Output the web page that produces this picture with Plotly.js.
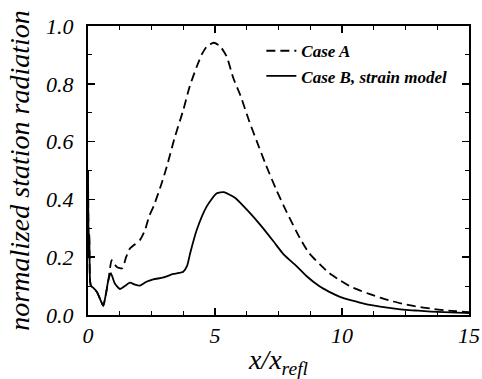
<!DOCTYPE html>
<html>
<head>
<meta charset="utf-8">
<script src="https://cdn.plot.ly/plotly-3.0.1.min.js"></script>
<style>html,body{margin:0;padding:0;background:#fff;}</style>
</head>
<body>
<div id="chart" style="width:482px;height:379px;"></div>
<script>
// Case A (dashed)
const caseA_x = [0, 0.03, 0.05, 0.08, 0.12, 0.2, 0.35, 0.5, 0.6, 0.7, 0.8, 0.85, 0.93, 1.05, 1.15, 1.35, 1.5, 1.65, 1.85, 2.05, 2.25, 2.4, 2.6, 2.9, 3.1, 3.4, 3.75, 4.0, 4.28, 4.5, 4.67, 4.95, 5.2, 5.46, 5.72, 6.0, 6.35, 6.65, 7.0, 7.43, 7.8, 8.35, 8.7, 9.13, 9.5, 9.92, 10.3, 10.7, 11.1, 11.5, 12.0, 12.5, 12.9, 13.5, 14.1, 14.5, 15];
const caseA_y = [0.50, 0.20, 0.28, 0.12, 0.10, 0.095, 0.08, 0.05, 0.032, 0.07, 0.12, 0.15, 0.19, 0.175, 0.165, 0.162, 0.20, 0.23, 0.245, 0.26, 0.295, 0.34, 0.38, 0.456, 0.513, 0.61, 0.709, 0.79, 0.859, 0.905, 0.928, 0.942, 0.93, 0.894, 0.82, 0.76, 0.67, 0.60, 0.52, 0.43, 0.36, 0.265, 0.215, 0.175, 0.145, 0.12, 0.10, 0.085, 0.072, 0.06, 0.047, 0.037, 0.03, 0.022, 0.016, 0.013, 0.01];
// Case B, strain model (solid)
const caseB_x = [0, 0.03, 0.05, 0.08, 0.12, 0.2, 0.35, 0.5, 0.6, 0.7, 0.8, 0.9, 1.05, 1.26, 1.45, 1.65, 1.85, 2.05, 2.3, 2.57, 2.97, 3.36, 3.75, 3.9, 4.02, 4.28, 4.67, 5.07, 5.35, 5.6, 5.8, 6.3, 6.8, 7.3, 7.7, 8.2, 8.6, 9.1, 9.5, 9.92, 10.3, 10.7, 11.1, 11.5, 12.0, 12.5, 13.0, 13.5, 14.0, 14.5, 15];
const caseB_y = [0.50, 0.20, 0.28, 0.12, 0.10, 0.095, 0.08, 0.05, 0.032, 0.07, 0.12, 0.145, 0.11, 0.09, 0.10, 0.112, 0.105, 0.102, 0.115, 0.123, 0.13, 0.142, 0.15, 0.17, 0.213, 0.294, 0.375, 0.421, 0.425, 0.415, 0.405, 0.36, 0.31, 0.255, 0.21, 0.17, 0.135, 0.10, 0.08, 0.063, 0.052, 0.043, 0.035, 0.029, 0.023, 0.018, 0.015, 0.012, 0.01, 0.008, 0.007];
const seriesNames = ['Case A', 'Case B, strain model'];
const yTickVals = [0, 0.2, 0.4, 0.6, 0.8, 1.0];
const xTickVals = [0, 5, 10, 15];

const serif = 'Liberation Serif';
const traces = [
  {x: caseA_x, y: caseA_y, name: seriesNames[0], mode: 'lines',
   line: {color: '#000', width: 1.8, dash: '9px,5px', shape: 'spline', smoothing: 0.6}},
  {x: caseB_x, y: caseB_y, name: seriesNames[1], mode: 'lines',
   line: {color: '#000', width: 1.8, shape: 'spline', smoothing: 0.6}}
];
const axisCommon = {
  showgrid: false, zeroline: false, showline: true, linecolor: '#000', linewidth: 2,
  mirror: 'allticks', ticks: 'inside', ticklen: 7, tickwidth: 1.5, tickcolor: '#000',
  tickfont: {family: serif, size: 22, style: 'italic', color: '#000'}
};
const layout = {
  width: 482, height: 379,
  margin: {l: 88, r: 13, t: 26, b: 64},
  paper_bgcolor: '#fff', plot_bgcolor: '#fff',
  font: {family: serif},
  showlegend: true,
  legend: {x: 0.455, y: 0.975, xanchor: 'left', yanchor: 'top', bgcolor: 'rgba(0,0,0,0)',
           font: {family: serif, size: 17, style: 'italic', weight: 'bold', color: '#000'},
           tracegroupgap: 0},
  xaxis: Object.assign({}, axisCommon, {
    range: [0, 15], tickvals: xTickVals, ticktext: xTickVals.map(String),
    minor: {dtick: 1.25, tick0: 0, ticks: 'inside', ticklen: 4, tickwidth: 1, tickcolor: '#000'},
    title: {text: 'x/x<sub>refl</sub>', standoff: 6,
            font: {family: serif, size: 28, style: 'italic', color: '#000'}}
  }),
  yaxis: Object.assign({}, axisCommon, {
    range: [0, 1], tickvals: yTickVals, ticktext: yTickVals.map(v => v.toFixed(1)),
    minor: {dtick: 0.1, tick0: 0, ticks: 'inside', ticklen: 4, tickwidth: 1, tickcolor: '#000'},
    ticklabelstandoff: 8,
    title: {text: 'normalized station radiation', standoff: 8,
            font: {family: serif, size: 28, style: 'italic', color: '#000'}}
  })
};
Plotly.newPlot('chart', traces, layout, {displayModeBar: false, staticPlot: true});
</script>
</body>
</html>
